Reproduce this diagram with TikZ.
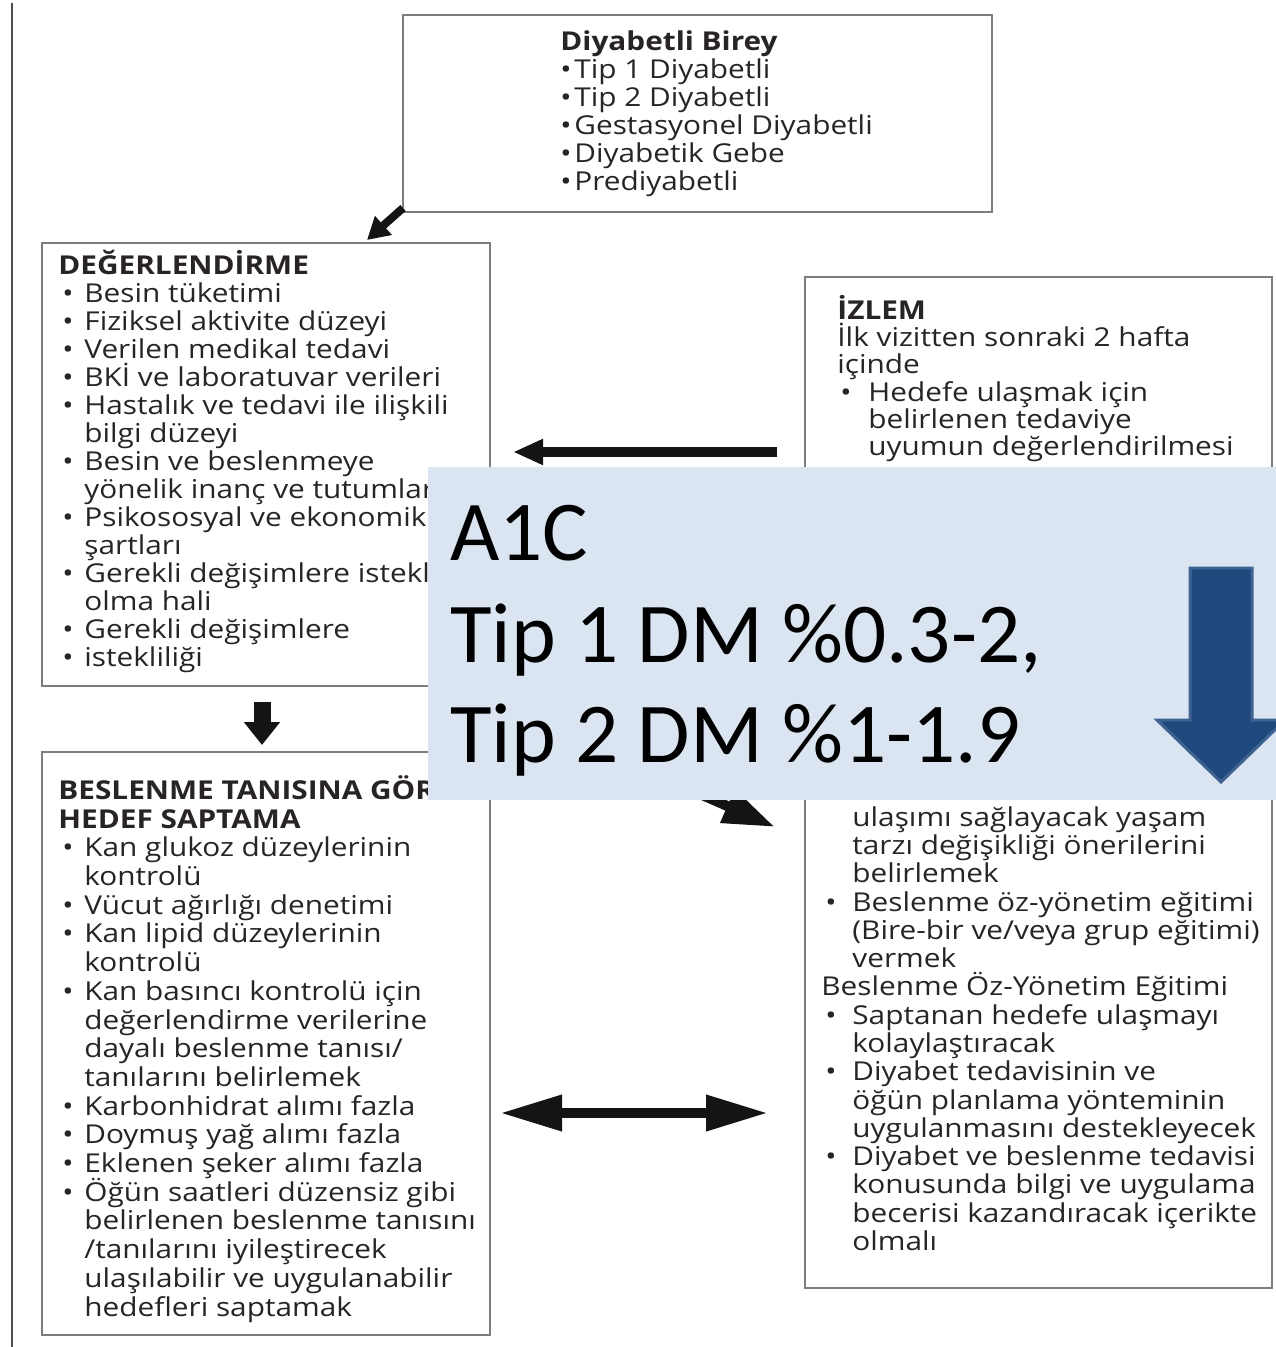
\documentclass[tikz,border=0pt]{standalone}
\usepackage{fontspec}
\setmainfont{Open Sans}[FakeStretch=1.145]
\newfontfamily\calib{Carlito}
\usetikzlibrary{arrows.meta}
\definecolor{txtcol}{RGB}{40,36,37}
\definecolor{boxgray}{RGB}{125,125,125}
\definecolor{ovfill}{RGB}{219,229,241}
\definecolor{arrfill}{RGB}{31,73,125}
\definecolor{arrline}{RGB}{62,98,145}
\newcommand\ibul{\hspace*{2pt}\makebox[11pt][l]{•}}
\newcommand\icnt{\hspace*{13pt}}
\newcommand\tbul{\makebox[7pt][l]{•}}
\newcommand\rbul{\hspace*{1.5pt}\makebox[14pt][l]{•}}
\newcommand\rcnt{\hspace*{15.5pt}}
\newcommand\sbul{\hspace*{2pt}\makebox[13.5pt][l]{•}}
\newcommand\firstln{\rule{0pt}{12pt}}
\tikzset{
  frame/.style={draw=boxgray, line width=1.1pt, inner sep=0pt},
  txt/.style={anchor=north west, inner sep=0pt, align=left, text=txtcol},
  sk/.style={font={\fontsize{13}{#1}\selectfont\lineskiplimit=-100pt}},
  blk/.style={draw=black!92, line width=5pt},
  ovl/.style={fill=ovfill, draw=none, inner sep=0pt},
  big/.style={anchor=base west, inner sep=0pt, text=black, font={\calib\fontsize{42.6}{50}\selectfont}},
}
\begin{document}
\begin{tikzpicture}[x=0.5pt, y=-0.5pt]
\useasboundingbox (0,0) rectangle (1275,1347);
\fill[white] (0,0) rectangle (1275,1347);
\draw[line width=1.4pt, draw=black!70] (12,3) -- (12,1347);

% boxes
\node[frame, minimum width=294.5pt, minimum height=98.5pt] (top) at (697.5,113.5) {};
\node[frame, minimum width=224pt, minimum height=221.5pt] (deg) at (266,464.5) {};
\node[frame, minimum width=224pt, minimum height=291.5pt] (bes) at (266,1043.5) {};
\node[frame, minimum width=233.5pt, minimum height=505.5pt] (izl) at (1038.5,782.5) {};

% texts
\node[txt, sk=14pt] (toptxt) at (560,26) {\firstln\textbf{Diyabetli Birey}\\
\tbul Tip 1 Diyabetli\\
\tbul Tip 2 Diyabetli\\
\tbul Gestasyonel Diyabetli\\
\tbul Diyabetik Gebe\\
\tbul Prediyabetli};

\node[txt, sk=14pt] (degtxt) at (58,250) {\firstln\textbf{DEĞERLENDİRME}\\
\ibul Besin tüketimi\\
\ibul Fiziksel aktivite düzeyi\\
\ibul Verilen medikal tedavi\\
\ibul BKİ ve laboratuvar verileri\\
\ibul Hastalık ve tedavi ile ilişkili\\
\icnt bilgi düzeyi\\
\ibul Besin ve beslenmeye\\
\icnt yönelik inanç ve tutumları\\
\ibul Psikososyal ve ekonomik\\
\icnt şartları\\
\ibul Gerekli değişimlere istekli\\
\icnt olma hali\\
\ibul Gerekli değişimlere\\
\ibul istekliliği};

\node[txt, sk=14.35pt] (bestxt) at (58,775) {\firstln\textbf{BESLENME TANISINA GÖRE}\\
\textbf{HEDEF SAPTAMA}\\
\ibul Kan glukoz düzeylerinin\\
\icnt kontrolü\\
\ibul Vücut ağırlığı denetimi\\
\ibul Kan lipid düzeylerinin\\
\icnt kontrolü\\
\ibul Kan basıncı kontrolü için\\
\icnt değerlendirme verilerine\\
\icnt dayalı beslenme tanısı/\\
\icnt tanılarını belirlemek\\
\ibul Karbonhidrat alımı fazla\\
\ibul Doymuş yağ alımı fazla\\
\ibul Eklenen şeker alımı fazla\\
\ibul Öğün saatleri düzensiz gibi\\
\icnt belirlenen beslenme tanısını\\
\icnt /tanılarını iyileştirecek\\
\icnt ulaşılabilir ve uygulanabilir\\
\icnt hedefleri saptamak};

\node[txt, sk=13.6pt] (izltxt) at (837,295) {\firstln\textbf{İZLEM}\\
İlk vizitten sonraki 2 hafta\\
içinde\\
\rbul Hedefe ulaşmak için\\
\rcnt belirlenen tedaviye\\
\rcnt uyumun değerlendirilmesi};

\node[txt, sk=14.13pt] (izltxt2) at (821,802) {\firstln\rcnt ulaşımı sağlayacak yaşam\\
\rcnt tarzı değişikliği önerilerini\\
\rcnt belirlemek\\
\sbul Beslenme öz-yönetim eğitimi\\
\rcnt (Bire-bir ve/veya grup eğitimi)\\
\rcnt vermek\\
Beslenme Öz-Yönetim Eğitimi\\
\sbul Saptanan hedefe ulaşmayı\\
\rcnt kolaylaştıracak\\
\sbul Diyabet tedavisinin ve\\
\rcnt öğün planlama yönteminin\\
\rcnt uygulanmasını destekleyecek\\
\sbul Diyabet ve beslenme tedavisi\\
\rcnt konusunda bilgi ve uygulama\\
\rcnt becerisi kazandıracak içerikte\\
\rcnt olmalı};

% connectors
\coordinate (a1s) at (403,208);
\coordinate (a1e) at (367,240);
\draw[blk, line width=4pt, -{Triangle[length=11pt,width=12pt]}] (a1s) -- (a1e);
\coordinate (a2s) at (262,702);
\coordinate (a2e) at (262,745);
\draw[blk, line width=8.5pt, -{Triangle[length=11.5pt,width=17.5pt]}] (a2s) -- (a2e);
\coordinate (a3s) at (777,452);
\coordinate (a3e) at (513,452);
\draw[blk, -{Triangle[length=15pt,width=12pt]}] (a3s) -- (a3e);
\coordinate (a4s) at (500,1113);
\coordinate (a4e) at (768,1113);
\draw[blk, {Triangle[length=31pt,width=17pt]}-{Triangle[length=31pt,width=17pt]}] (a4s) -- (a4e);
\coordinate (a5s) at (600,750);
\coordinate (a5e) at (775,827);
\draw[blk, -{Triangle[length=26pt,width=17pt]}] (a5s) -- (a5e);

% overlay
\node[ovl, minimum width=425pt, minimum height=166.5pt] (ov) at (853,633.5) {};
\node[big] (a1c) at (450,560) {A1C};
\node[big] (t1) at (450,662) {Tip 1 DM \%0.3-2,};
\node[big] (t2) at (450,762) {Tip 2 DM \%1-1.9};
\draw[fill=arrfill, draw=arrline, line width=1.5pt] (1190,568) -- (1252,568) -- (1252,720) -- (1285,720) -- (1221,782) -- (1157,720) -- (1190,720) -- cycle;
\end{tikzpicture}
\end{document}
